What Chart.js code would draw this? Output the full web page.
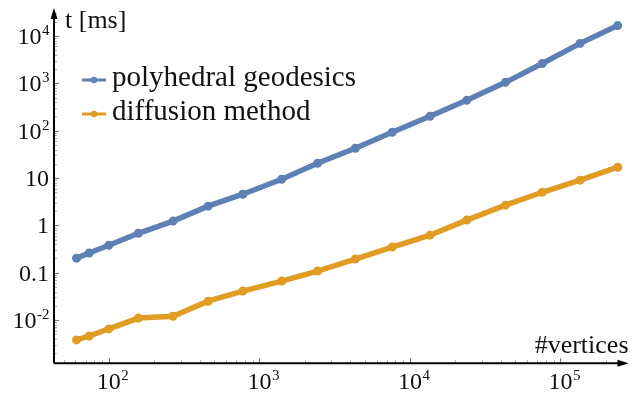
<!DOCTYPE html>
<html>
<head>
<meta charset="utf-8">
<script src="https://cdn.jsdelivr.net/npm/chart.js@4/dist/chart.umd.min.js"></script>
<style>
  html, body { margin: 0; padding: 0; background: #fff; }
  #wrap { width: 633px; height: 396px; position: relative; }
</style>
</head>
<body>
<div id="wrap"><canvas id="timing-chart"></canvas></div>
<script>
// mesh sizes and timings (ms)
var vertices = [61, 74, 100, 157, 267, 456, 776, 1406, 2432, 4335, 7618, 13583, 23850, 43100, 75700, 134900, 240000];
var polyhedral = [0.203, 0.26, 0.38, 0.68, 1.23, 2.54, 4.55, 9.4, 20.5, 42.5, 92.5, 201, 437, 1050, 2630, 6980, 16600];
var diffusion = [0.0038, 0.0046, 0.0065, 0.011, 0.012, 0.025, 0.041, 0.0665, 0.108, 0.194, 0.347, 0.62, 1.29, 2.67, 5.0, 9.0, 16.9];

var seriesNames = ["polyhedral geodesics", "diffusion method"];
var seriesColors = ["#5E81B5", "#E19C24"];

// tick labels: base text + superscript
var xTickValues = [100, 1000, 10000, 100000];
var xTickBase = ["10", "10", "10", "10"];
var xTickSup = ["2", "3", "4", "5"];
var yTickValues = [0.01, 0.1, 1, 10, 100, 1000, 10000];
var yTickBase = ["10", "0.1", "1", "10", "10", "10", "10"];
var yTickSup = ["-2", "", "", "", "2", "3", "4"];

var xLabel = "#vertices";
var yLabel = "t [ms]";

var FONT = "'Liberation Serif', 'Times New Roman', serif";

function points(xs, ys) {
    var out = [];
    for (var i = 0; i < xs.length; i++) {
        out.push({ x: xs[i], y: ys[i] });
    }
    return out;
}

function drawSup(ctx, base, sup, x, baseline, align) {
    ctx.font = "24px " + FONT;
    var wb = ctx.measureText(base).width;
    ctx.font = "15px " + FONT;
    var ws = sup ? ctx.measureText(sup).width : 0;
    var left;
    if (align === "right") {
        left = x - wb - ws;
    } else {
        left = x - wb / 2;
    }
    ctx.textAlign = "left";
    ctx.textBaseline = "alphabetic";
    ctx.font = "24px " + FONT;
    ctx.fillText(base, left, baseline);
    if (sup) {
        ctx.font = "15px " + FONT;
        ctx.fillText(sup, left + wb + 0.5, baseline - 9);
    }
}

var axesPlugin = {
    id: 'mmaAxes',
    beforeDatasetsDraw: function (chart) {
        var ctx = chart.ctx;
        var xs = chart.scales.x;
        var ys = chart.scales.y;
        var area = chart.chartArea;
        var ox = area.left, oy = area.bottom;

        ctx.save();
        // minor + major ticks along x
        for (var e = 1; e <= 5; e++) {
            for (var k = 1; k <= 9; k++) {
                var v = k * Math.pow(10, e);
                if (v < xs.min || v > xs.max) continue;
                var px = Math.round(xs.getPixelForValue(v)) + 0.5;
                ctx.beginPath();
                ctx.strokeStyle = k === 1 ? "#777" : "#aaa";
                ctx.lineWidth = 1;
                ctx.moveTo(px, oy);
                ctx.lineTo(px, oy - (k === 1 ? 5 : 3));
                ctx.stroke();
            }
        }
        // minor + major ticks along y
        for (var e = -3; e <= 4; e++) {
            for (var k = 1; k <= 9; k++) {
                var v = k * Math.pow(10, e);
                if (v < ys.min || v > ys.max) continue;
                var py = Math.round(ys.getPixelForValue(v)) + 0.5;
                ctx.beginPath();
                ctx.strokeStyle = k === 1 ? "#777" : "#aaa";
                ctx.lineWidth = 1;
                ctx.moveTo(ox, py);
                ctx.lineTo(ox + (k === 1 ? 5 : 3), py);
                ctx.stroke();
            }
        }

        // axis lines with arrow heads
        ctx.strokeStyle = "#000";
        ctx.fillStyle = "#000";
        ctx.lineWidth = 2;
        ctx.beginPath();
        ctx.moveTo(ox, oy);
        ctx.lineTo(area.right - 8, oy);
        ctx.moveTo(ox, oy);
        ctx.lineTo(ox, area.top + 8);
        ctx.stroke();

        ctx.beginPath();
        ctx.moveTo(area.right, oy);
        ctx.lineTo(area.right - 11, oy - 3.5);
        ctx.lineTo(area.right - 11, oy + 3.5);
        ctx.closePath();
        ctx.fill();

        ctx.beginPath();
        ctx.moveTo(ox, area.top);
        ctx.lineTo(ox - 3.5, area.top + 11);
        ctx.lineTo(ox + 3.5, area.top + 11);
        ctx.closePath();
        ctx.fill();
        ctx.restore();
    },
    afterDraw: function (chart) {
        var ctx = chart.ctx;
        var xs = chart.scales.x;
        var ys = chart.scales.y;
        var area = chart.chartArea;

        ctx.save();
        ctx.fillStyle = "#111";

        // tick labels
        for (var i = 0; i < xTickValues.length; i++) {
            var px = xs.getPixelForValue(xTickValues[i]);
            drawSup(ctx, xTickBase[i], xTickSup[i], px, area.bottom + 26, "center");
        }
        for (var j = 0; j < yTickValues.length; j++) {
            var py = ys.getPixelForValue(yTickValues[j]);
            drawSup(ctx, yTickBase[j], yTickSup[j], area.left - 5, py + 8, "right");
        }

        // axis labels
        ctx.font = "26px " + FONT;
        ctx.textAlign = "left";
        ctx.textBaseline = "alphabetic";
        ctx.fillText(yLabel, area.left + 11, 28);
        ctx.textAlign = "right";
        ctx.fillText(xLabel, area.right, area.bottom - 10);

        // legend
        var lx = 82, lw = 24;
        var rows = [86, 120];
        for (var s = 0; s < seriesNames.length; s++) {
            var my = rows[s] - 6;
            ctx.strokeStyle = seriesColors[s];
            ctx.fillStyle = seriesColors[s];
            ctx.lineWidth = 3;
            ctx.beginPath();
            ctx.moveTo(lx, my);
            ctx.lineTo(lx + lw, my);
            ctx.stroke();
            ctx.beginPath();
            ctx.arc(lx + lw / 2, my, 3.2, 0, Math.PI * 2);
            ctx.fill();

            ctx.fillStyle = "#111";
            ctx.font = "29px " + FONT;
            ctx.textAlign = "left";
            ctx.fillText(seriesNames[s], lx + lw + 6, rows[s]);
        }
        ctx.restore();
    }
};

var config = {
    type: 'line',
    data: {
        datasets: [{
            label: seriesNames[0],
            data: points(vertices, polyhedral),
            borderColor: seriesColors[0],
            backgroundColor: seriesColors[0],
            borderWidth: 5.5,
            pointRadius: 4.5,
            pointBorderWidth: 0,
            fill: false,
            clip: false
        }, {
            label: seriesNames[1],
            data: points(vertices, diffusion),
            borderColor: seriesColors[1],
            backgroundColor: seriesColors[1],
            borderWidth: 5.5,
            pointRadius: 4.5,
            pointBorderWidth: 0,
            fill: false,
            clip: false
        }]
    },
    options: {
        responsive: true,
        maintainAspectRatio: false,
        animation: false,
        layout: {
            padding: { left: 54, right: 1, top: 8, bottom: 32.7 }
        },
        plugins: {
            legend: { display: false },
            tooltip: { enabled: false }
        },
        scales: {
            x: {
                type: 'logarithmic',
                min: 43.2,
                max: 283000,
                display: false
            },
            y: {
                type: 'logarithmic',
                min: 0.00122,
                max: 39000,
                display: false
            }
        }
    },
    plugins: [axesPlugin]
};

var ctx = document.getElementById('timing-chart').getContext('2d');
new Chart(ctx, config);
</script>
</body>
</html>
